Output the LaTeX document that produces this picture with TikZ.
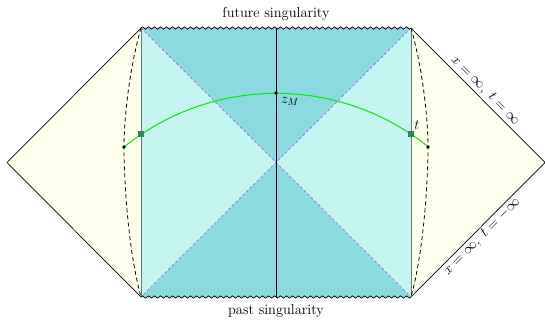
\documentclass[tikz,border=0pt]{standalone}
\usetikzlibrary{decorations.pathmorphing,calc}
\definecolor{darkteal}{RGB}{139,218,223}
\definecolor{lightteal}{RGB}{197,245,240}
\definecolor{paleyellow}{RGB}{255,255,238}
\definecolor{diagviolet}{RGB}{140,90,235}
\definecolor{greencurve}{RGB}{0,235,0}
\definecolor{sqgreen}{RGB}{46,139,87}
\tikzset{
  lbl/.style={font=\fontsize{14.4}{17}\selectfont, inner sep=2pt},
  edge/.style={black, line width=0.7pt},
  sideline/.style={gray!90!black, line width=0.9pt},
  diag/.style={diagviolet, line width=0.6pt, dash pattern=on 2.5pt off 2.5pt},
  sing/.style={black, line width=0.7pt, decorate, decoration={zigzag, segment length=6pt, amplitude=1.1pt}},
  bdry/.style={black, line width=0.8pt, dash pattern=on 4pt off 3pt},
  dotm/.style={circle, fill=black, inner sep=0pt, minimum size=3.6pt},
  sqm/.style={rectangle, fill=sqgreen, inner sep=0pt, minimum size=6.5pt}
}
\begin{document}
\begin{tikzpicture}[x=1pt,y=-1pt]
\useasboundingbox (0,0) rectangle (545,320);
\coordinate (L) at (7,162.5);
\coordinate (TL) at (141,28);
\coordinate (BL) at (141,297);
\coordinate (TR) at (411,28);
\coordinate (BR) at (411,297);
\coordinate (R) at (545,162.5);
\coordinate (C) at (276,162.5);
\coordinate (TM) at (276,28);
\coordinate (BM) at (276,297);
\coordinate (dotL) at (124,147);
\coordinate (dotR) at (428,147);
% regions
\fill[paleyellow] (L) -- (TL) -- (BL) -- cycle;
\fill[paleyellow] (R) -- (TR) -- (BR) -- cycle;
\fill[lightteal] (TL) -- (TR) -- (BR) -- (BL) -- cycle;
\fill[darkteal] (TL) -- (TR) -- (C) -- cycle;
\fill[darkteal] (BL) -- (BR) -- (C) -- cycle;
% outer edges
\draw[edge] (TL) -- (L) -- (BL);
\draw[edge] (TR) -- (R) -- (BR);
% horizons
\draw[diag] (TL) -- (BR);
\draw[diag] (TR) -- (BL);
% center line
\draw[black, line width=0.8pt] (TM) -- (BM);
% sides
\draw[sideline] (TL) -- (BL);
\draw[sideline] (TR) -- (BR);
% singularities
\draw[sing] (TL) -- (TR);
\draw[sing] (BL) -- (BR);
% dashed boundaries
\draw[bdry] (TL) .. controls (129,70) and (124,120) .. (dotL) .. controls (124,180) and (128,250) .. (BL);
\draw[bdry] (TR) .. controls (423,70) and (428,120) .. (dotR) .. controls (428,180) and (424,250) .. (BR);
% green slice
\draw[greencurve, line width=1pt] (dotL) arc[start angle=231.16, end angle=308.84, radius=242.8];
\node[sqm] (sqL) at (141,134) {};
\node[sqm] (sqR) at (411,134) {};
\node[dotm] (pL) at (dotL) {};
\node[dotm] (pR) at (dotR) {};
\node[dotm] (zM) at (276,93) {};
% labels
\node[lbl] (zMlbl) at ($(zM)+(14,8)$) {$z_M$};
\node[lbl] (tlbl) at ($(sqR)+(6,-9)$) {$t$};
\node[lbl] (fut) at (276,14) {future singularity};
\node[lbl] (past) at (276,311) {past singularity};
\path (TR) -- (R) node[lbl, pos=0.51, sloped, above] (lab1) {$x=\infty,\ t=\infty$};
\path (BR) -- (R) node[lbl, pos=0.49, sloped, below] (lab2) {$x=\infty,\ t=-\infty$};
\end{tikzpicture}
\end{document}
